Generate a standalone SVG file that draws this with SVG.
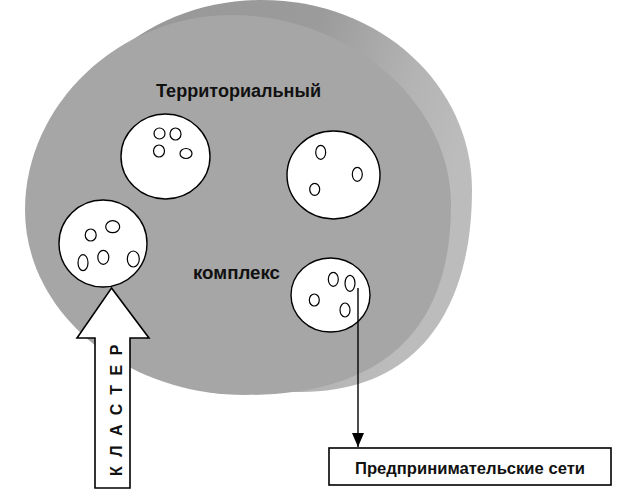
<svg xmlns="http://www.w3.org/2000/svg" width="637" height="504" viewBox="0 0 637 504">
<defs>
<linearGradient id="band" x1="0" y1="0" x2="1" y2="0.3">
<stop offset="0" stop-color="#979797"/>
<stop offset="0.6" stop-color="#9b9b9b"/>
<stop offset="0.85" stop-color="#b4b4b4"/>
<stop offset="1" stop-color="#bcbcbc"/>
</linearGradient>
<marker id="ah" viewBox="0 0 14 12" refX="14" refY="6" markerWidth="14" markerHeight="12" markerUnits="userSpaceOnUse" orient="auto">
<path d="M0,0 L14,6 L0,12 Z" fill="#000"/>
</marker>
<style>
.cl{fill:#fff;stroke:#000;stroke-width:1.4}
.ov{fill:#fff;stroke:#000;stroke-width:1.2}
.lbl{font-family:"Liberation Sans",Arial,sans-serif;font-weight:bold;font-size:18px;fill:#111}
.box{font-family:"Liberation Sans",Arial,sans-serif;font-weight:bold;font-size:17px;fill:#111}
</style>
</defs>
<rect width="637" height="504" fill="#fff"/>
<g id="disc">
<path d="M262,0 C380,0 472,85 472,190 C472,300 425,392 300,392 C170,392 50,300 50,195 C50,85 145,0 262,0 Z" fill="url(#band)"/>
<path d="M232,15 C346,15 451,100 451,205 C451,328 385,395 245,395 C124,395 25,312 25,210 C25,105 118,15 232,15 Z" fill="#a6a6a6"/>
</g>
<g id="labels">
<text class="lbl" x="156" y="97" textLength="165" lengthAdjust="spacingAndGlyphs">Территориальный</text>
<text class="lbl" x="193" y="279" textLength="87" lengthAdjust="spacingAndGlyphs">комплекс</text>
</g>
<g id="cluster-a">
<ellipse class="cl" cx="165.5" cy="156.5" rx="44.5" ry="42.5"/>
<ellipse class="ov" cx="159.5" cy="133.5" rx="5.5" ry="5.5"/>
<ellipse class="ov" cx="175.5" cy="134" rx="5.5" ry="6"/>
<ellipse class="ov" cx="159" cy="151" rx="5.5" ry="6"/>
<ellipse class="ov" cx="186" cy="153.5" rx="6" ry="5"/>
</g>
<g id="cluster-b">
<ellipse class="cl" cx="333.5" cy="175" rx="46.5" ry="44"/>
<ellipse class="ov" cx="320.7" cy="152.3" rx="5" ry="7"/>
<ellipse class="ov" cx="357.3" cy="174.3" rx="5" ry="7"/>
<ellipse class="ov" cx="314.7" cy="189.3" rx="5" ry="6"/>
</g>
<g id="cluster-c">
<ellipse class="cl" cx="103" cy="243.5" rx="44" ry="43.5"/>
<ellipse class="ov" cx="90.7" cy="235" rx="5.5" ry="6"/>
<ellipse class="ov" cx="112.7" cy="226.7" rx="7" ry="6"/>
<ellipse class="ov" cx="103.3" cy="257.3" rx="5.5" ry="7"/>
<ellipse class="ov" cx="83" cy="262.7" rx="5" ry="8"/>
<ellipse class="ov" cx="133.3" cy="259" rx="6" ry="8"/>
</g>
<g id="cluster-d">
<ellipse class="cl" cx="330.5" cy="295" rx="39.5" ry="37"/>
<ellipse class="ov" cx="333.3" cy="279.3" rx="5" ry="7"/>
<ellipse class="ov" cx="350" cy="283.3" rx="5" ry="8"/>
<ellipse class="ov" cx="314.3" cy="300" rx="5" ry="6"/>
<ellipse class="ov" cx="345" cy="310" rx="5" ry="7"/>
</g>
<g id="cluster-arrow">
<polygon points="111.5,288 149,338 130,338 130,488 95,488 95,338 77,338" fill="#fff" stroke="#000" stroke-width="1.6" stroke-linejoin="miter"/>
<text class="lbl" transform="translate(122,476) rotate(-90)" style="font-size:16px;letter-spacing:9.5px">КЛАСТЕР</text>
</g>
<g id="connectors">
<line x1="358" y1="288" x2="358" y2="447" stroke="#000" stroke-width="1.4" marker-end="url(#ah)"/>
</g>
<g id="networks">
<rect x="329" y="448" width="282" height="37" fill="#fff" stroke="#000" stroke-width="1.6"/>
<text class="box" x="355" y="474" textLength="230" lengthAdjust="spacingAndGlyphs">Предпринимательские сети</text>
</g>
</svg>
